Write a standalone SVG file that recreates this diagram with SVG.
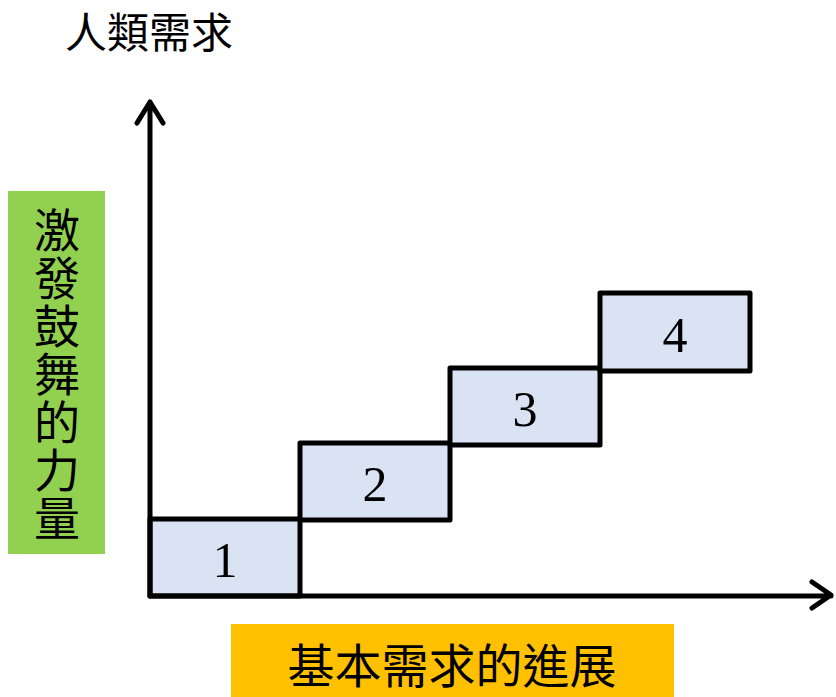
<svg xmlns="http://www.w3.org/2000/svg" width="836" height="697" viewBox="0 0 836 697">
<style>
.cjk{font-family:"Noto Sans CJK TC","Noto Sans CJK SC",sans-serif;fill:#000}
.step{fill:#DAE3F3;stroke:#000;stroke-width:5;stroke-linejoin:round}
.num{font-family:"Liberation Serif",serif;font-size:50px;text-anchor:middle;fill:#000}
.axis{fill:none;stroke:#000;stroke-width:5;stroke-linecap:round;stroke-linejoin:round}
</style>
<rect width="836" height="697" fill="#fff"/>
<g id="title">
<text class="cjk" x="65" y="48" font-size="42">人類需求</text>
</g>
<g id="ylabel">
<rect x="8" y="191" width="97" height="363" fill="#92D050"/>
<g class="cjk" font-size="46" text-anchor="middle">
<text x="57" y="247">激</text>
<text x="57" y="295">發</text>
<text x="57" y="343">鼓</text>
<text x="57" y="391">舞</text>
<text x="57" y="439">的</text>
<text x="57" y="487">力</text>
<text x="57" y="535">量</text>
</g>
</g>
<g id="xlabel">
<rect x="231" y="624" width="443" height="73" fill="#FFC000"/>
<text class="cjk" x="452" y="683" font-size="47" text-anchor="middle">基本需求的進展</text>
</g>
<g id="step1"><rect class="step" x="150" y="519" width="150" height="77"/><text class="num" x="225" y="577">1</text></g>
<g id="step2"><rect class="step" x="300" y="443" width="150" height="77"/><text class="num" x="375" y="501">2</text></g>
<g id="step3"><rect class="step" x="450" y="368" width="150" height="77"/><text class="num" x="525" y="426">3</text></g>
<g id="step4"><rect class="step" x="600" y="293" width="150" height="78"/><text class="num" x="675" y="352">4</text></g>
<g id="connectors">
<path class="axis" d="M150 596 V102 M137 123 L150 102 L163 123"/>
<path class="axis" d="M150 596 H831 M812 582 L831 595 L812 608"/>
</g>
</svg>
